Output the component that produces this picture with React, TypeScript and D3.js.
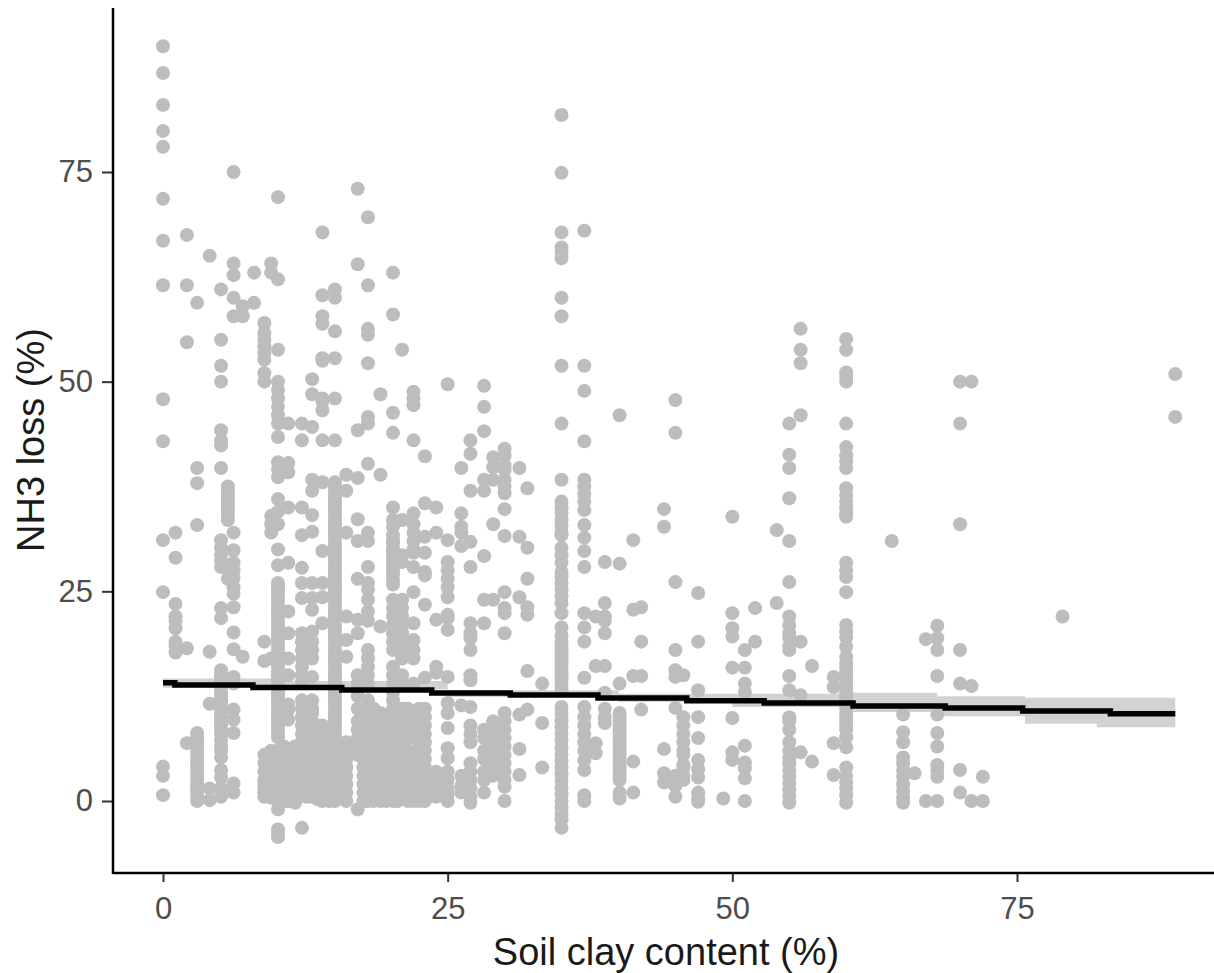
import { useLayoutEffect, useRef } from 'react'
import * as d3 from 'd3'

const WIDTH = 1214
const HEIGHT = 973
const POINT_COLOR = '#bdbdbd'
const RIBBON_COLOR = '#d2d2d2'

const xTicks = [0, 25, 50, 75]
const yTicks = [0, 25, 50, 75]

// fitted line, steps as they appear in the picture
const fitClay = [0, 1.05, 7.9, 15.7, 23.6, 30.5, 38.2, 46, 52.8, 60.6, 68.7, 75.5, 83.2, 88.9]
const fitLoss = [14.1, 13.83, 13.53, 13.23, 12.88, 12.64, 12.28, 11.96, 11.68, 11.33, 11.09, 10.73, 10.41, 10.41]

const ribbonClay = [0, 10, 25, 40, 50, 60, 68, 75.7, 82, 88.9]
const ribbonLow = [13.5, 13.3, 12.4, 11.8, 11.2, 10.6, 10.1, 9.2, 8.8, 8.8]
const ribbonHigh = [14.6, 14.3, 13.2, 12.8, 12.8, 12.9, 12.5, 12.3, 12.3, 12.3]

// NH3 loss readings per clay level
const loss0 = [90, 86.8, 83, 79.9, 78, 71.8, 66.8, 61.5, 47.9, 42.9, 31.1, 24.9, 4.1, 3, 0.7]
const loss1 = [32, 29, 23.5, 22, 21.5, 20.6, 19, 18.5, 17.7]
const loss2 = [67.5, 61.5, 54.7, 18.2, 6.9]
const loss3 = [59.4, 39.7, 37.9, 32.9, 8.1, 7.5, 7, 6.5, 6, 5.5, 5, 4.5, 4, 3.5, 3, 2.5, 2, 1.5, 1, 0.5, 0]
const loss4 = [65, 17.8, 11.6, 0.1, 1.5]
const loss5 = [61, 55, 51.9, 50, 44.2, 43, 42.4, 39.7, 31.1, 30.2, 29.3, 28.6, 27.9, 23, 21.8, 15.6, 15, 14.5, 14, 13.5, 13, 12.5, 12, 11.5, 11, 10.5, 10, 9.5, 9, 8.5, 8, 7.3, 6.6, 6, 5.2, 3.7, 2.8, 1.5, 0.5]
const loss5b = [37.5, 37, 36.5, 36, 35.5, 35, 34.5, 34, 33.5, 27.5, 26.5]
const loss6 = [75, 64.1, 62.7, 60, 57.8, 32, 29.9, 28.4, 27.5, 26.6, 25.5, 24.7, 23.1, 20.1, 18.1, 14.8, 14, 10.9, 9.7, 8.1, 2.1, 1]
const loss7 = [59, 57.8, 17.2]
const loss8 = [63, 59.4]
const loss9 = [57, 55.8, 55, 54.2, 53.4, 52.6, 51, 50, 19, 16.7, 5.5, 4.5, 3.5, 2.5, 2, 1.5, 1, 0.5]
const loss9b = [64.1, 63, 34, 33, 32, 17, 6, 5, 4, 3, 2, 1.2, 0.4]
const loss10 = [72, 62.2, 53.8, 50, 49, 48, 47, 46, 45, 43.4, 40.4, 39.6, 38.6, 36, 34.5, 33, 30, 28.1, 26, 25.5, 25, 24.5, 24, 23.5, 23, 22.5, 22, 21.5, 21, 20.5, 20, 19.5, 19, 18.5, 18, 17.5, 17, 16.5, 16, 15.5, 15, 14.5, 14, 13.5, 13, 12.5, 12, 11.5, 11, 10.5, 10, 9.5, 9, 8.5, 8, 7.6, 6, 5, 4, 3, 2, 1, 0, -1, -3.4, -3.9, -4.3]
const loss10b = [6.5, 5.5, 4.5, 3.5, 2.5, 1.5, 0.5, 0]
const loss11 = [45, 40.3, 39.2, 35, 28.4, 22.6, 20, 17, 15, 11.5, 10.9, 9.7, 5.5, 4.5, 3.5, 2.5, 1.5, 0.5, 0]
const loss11b = [6.5, 5.5, 4.5, 3.5, 2.5, 1.5, 0.5, -0.2]
const loss12 = [45, 43, 35, 31.7, 27.8, 26, 24.2, 20, 19, 18, 17, 16, 15, 14.3, 12, 11, 10, 9, 8, 7, 6, 5, 4, 3, 2, 1, -3.2]
const loss12b = [10, 9, 7.5, 6.5, 5.5, 4.5, 3.5, 2.5, 1.5, 0.5]
const loss13 = [50.3, 48.5, 44.6, 38.3, 37, 34.1, 32.1, 26, 24.2, 22.8, 20.2, 19, 18, 17, 14.8, 12, 11, 10.5, 9.5, 8.5, 7.5, 6.5, 5.5, 3.5, 2.5, 1.5, 0.5]
const loss13b = [9, 8, 7, 6, 5, 3, 2, 1, 0.2]
const loss14 = [67.8, 60.3, 57.8, 56.9, 52.8, 52.5, 48, 47.6, 46.6, 43, 38, 29.8, 26, 24.3, 21.2, 9, 8, 7, 6, 5, 4, 3, 2, 1, 0]
const loss14b = [7, 6, 5, 4, 3, 2, 1, 0]
const loss15 = [61, 60, 56, 52.8, 48, 43, 38, 37.5, 37, 36.5, 36, 35.5, 35, 34.5, 34, 33.5, 33, 32.5, 32, 31.5, 31, 30.5, 30, 29.5, 29, 28.5, 28, 27.5, 27, 26.5, 26, 25.5, 25, 24.5, 24, 23.5, 23, 22.5, 22, 21.5, 21, 20.5, 20, 19.5, 19, 18.5, 18, 17.5, 17, 16.5, 16, 15.5, 15, 14.5, 14, 13.5, 13, 12.5, 12, 11.5, 11, 10.5, 10, 9.5, 9, 8.5, 8, 7.5, 7, 6.5, 6, 5.5, 5, 4.5, 4, 3.5, 3, 2.5, 2, 1.5, 1, 0.5, 0]
const loss16 = [38.9, 37, 32, 22, 19.2, 17.2, 7, 6, 5, 4, 3, 2, 1, 0]
const loss17 = [73, 64, 44.2, 38.5, 33.6, 31, 26.5, 21.6, 20, 15, 14, 12.5, 11, 9.5, 8.5, 7.5, 6.5, 5.5, -1]
const loss17b = [9, 8, 7, 6, 5, 4, 3, 2, 1, 0]
const loss18 = [69.6, 61.5, 56.3, 55.6, 52.2, 45.8, 45, 40.2, 32, 31, 27.9, 26, 25.2, 24, 22.6, 21.5, 18, 17, 16, 15, 14, 12, 11, 10, 9, 8, 7, 6, 5, 4, 3, 2, 1, 0]
const loss18b = [11, 10, 9, 8, 7, 6, 5, 4, 3, 2, 1, 0]
const loss19 = [48.5, 38.9, 20.8, 10.5, 9.5, 8.5, 7.5, 6.5, 5.5, 4.5, 3.5, 2.5, 1.5, 0.5, 0]
const loss19b = [10, 9, 8, 7, 6, 5, 3, 2, 1, 0]
const loss20 = [63, 58, 46.3, 43.9, 35, 33.5, 32.7, 31.7, 31, 30.7, 30, 29.7, 29, 28.7, 28, 27.6, 27, 26.3, 25.8, 24, 23, 22, 21, 20, 19, 18, 16, 15, 14, 13, 12, 11, 10, 9, 8, 7, 6, 5, 4, 3, 2, 1, 0]
const loss20b = [10.5, 9, 8, 7, 6, 5, 4, 3, 2, 0]
const loss21 = [53.8, 33.5, 29.3, 28.5, 24, 23, 22, 21, 20, 19, 18, 17, 15, 14, 11, 10, 9, 8, 7, 6, 4.5, 3.5, 2.5, 1.5, 0.5]
const loss21b = [11, 10, 9, 8, 6, 5, 4, 3, 2, 1, 0]
const loss22 = [48.8, 48, 47.2, 43, 34.3, 33, 32, 31, 30, 29.6, 27.9, 24.9, 21.2, 19.2, 18, 17, 14, 10.5, 9.5, 8.5, 7.5, 5.5, 4.5, 3.5, 2.5, 1.5, 0.5, 0]
const loss22b = [11, 10, 9, 8, 7, 6, 5, 4, 3, 2, 1, 0]
const loss23 = [41.1, 35.5, 31.5, 29.6, 27.3, 26.9, 23.4, 14.7, 11, 10, 9, 8, 7, 6, 5, 4, 3, 2, 1, 0]
const loss24 = [35, 32, 21.6, 15.3, 16, 3.5, 3, 2.5, 2, 1.5, 0.5]
const loss25 = [49.7, 31.1, 28.5, 27.5, 26.5, 25.5, 24.3, 22.2, 21.8, 20.4, 14.8, 11.7, 10.5, 8.7, 6.3, 5.1, 3.5, 2.5, 1.5, 0.8, 0]
const loss26 = [39.7, 34.3, 32.7, 32, 30.4, 11.4, 3, 1.8, 1]
const loss27 = [43, 41.4, 37, 30.9, 27.9, 21.2, 20, 19.4, 18, 15, 14.4, 11.2, 9, 8, 7, 4.5, 3.5, 2.5, 1.5, 0.5, -0.2]
const loss28 = [49.5, 47, 44.1, 38.3, 37, 29.2, 24, 21.2, 8.5, 7.5, 6, 5, 3.5, 2.5, 1]
const loss29 = [39.8, 41, 38.3, 33, 24, 9.5, 8.5, 7.5, 6.5, 5.5, 4.5, 3.5, 3]
const loss30 = [42, 41.2, 40, 39.5, 38.3, 37.5, 36.7, 34.8, 31.6, 24.9, 23, 22.4, 20, 10.5, 9.5, 8.5, 7.5, 6.5, 5.5, 4.5, 3.5, 2.5, 1.7, 0]
const loss31 = [39.7, 31.5, 24.3, 10.3, 6.2, 3.1]
const loss32 = [37.3, 30.2, 26.5, 23.1, 22.2, 15.5, 10.9]
const loss33 = [14, 9.3, 4]
const loss35 = [81.8, 74.9, 67.8, 66, 65.5, 64.7, 60, 57.8, 51.9, 45, 38.3, 35.7, 35, 34.3, 33.5, 32.8, 32, 31.7, 30.2, 29.3, 28.4, 27.3, 26.7, 26, 25.2, 24.4, 23.6, 22.4, 20.7, 19.7, 19, 18.5, 18, 17.5, 17, 16.5, 16, 15.5, 15, 14.5, 14, 13.3, 11.2, 10.4, 9.6, 8.8, 8, 7.2, 6.4, 5.6, 4.8, 4, 3.2, 2.4, 1.6, 0.8, 0, -0.8, -1.6, -2.2, -3.2]
const loss37 = [68, 51.9, 48.9, 42.9, 38.3, 37.5, 36.6, 35.7, 34.7, 32.9, 31.4, 29.8, 27.9, 22.4, 20.7, 19, 14.7, 11.2, 10, 9, 8, 7, 6, 4.9, 3.7, 0.7, 0]
const loss38 = [16.1, 5.7, 22, 6.9]
const loss39 = [28.5, 23.6, 22, 21.5, 20, 16.1, 12.9, 11, 10, 9.3]
const loss40 = [46, 28.3, 14, 10.5, 10, 9.5, 9, 8.5, 8, 7.5, 7, 6.5, 6, 5.5, 5, 4.5, 4, 3.5, 3, 2.5, 1, 0.3]
const loss41 = [31.1, 22.8, 14.9, 4.7, 1]
const loss42 = [23.1, 19, 14.9, 10.9]
const loss44 = [34.8, 32.7, 6.2, 3.3, 2.2]
const loss45 = [47.8, 43.9, 26.1, 18, 15.6, 14.8, 11.1, 3, 1.8, 0.5]
const loss46 = [15, 10, 9, 8, 7, 6, 5.5, 4.3, 4, 3, 2.5]
const loss47 = [24.8, 19, 13.2, 10, 7.5, 4.9, 3.8, 2.8, 1, 0.3, -0.1]
const loss49 = [0.3]
const loss50 = [33.9, 22.4, 20.6, 19.6, 15.9, 9.9, 5.8, 4.9]
const loss51 = [18, 15.9, 14, 13, 6.6, 4.6, 3.9, 2.7, 0]
const loss52 = [23, 19]
const loss54 = [32.3, 23.6]
const loss55 = [45, 41.3, 39.7, 36.1, 31, 26.1, 22, 21, 20, 19.5, 18.5, 18, 14.9, 13.2, 10, 9.5, 8.5, 7, 6, 5.2, 4.5, 3.7, 2.9, 2.1, 1.3, 0.5, -0.2]
const loss56 = [56.3, 53.8, 52.2, 46, 19, 12.6, 5.8]
const loss57 = [16.1, 4.7]
const loss59 = [14.8, 13.6, 6.9, 3.1]
const loss60 = [55.1, 53.8, 51.1, 50.6, 50, 45, 42.2, 41.2, 40.5, 39.7, 37.3, 36.5, 35.7, 35, 34.3, 33.9, 28.4, 27.5, 26.7, 24.9, 21, 20.2, 19.5, 18.4, 17.2, 16.5, 16, 15.5, 15, 14.5, 14, 13.5, 13, 12.5, 12, 11.5, 11, 10.5, 10, 9.5, 9, 8.5, 7.6, 6.4, 4, 3, 2.2, 1.5, 0.7, -0.2]
const loss64 = [31]
const loss65 = [10.3, 8.2, 7, 5.2, 4.5, 3.7, 2.9, 2, 1.2, 0.4, -0.2]
const loss66 = [3.3]
const loss67 = [19.3, 0]
const loss68 = [20.9, 19.4, 18, 14.9, 10.3, 8.1, 6.5, 4.3, 3.7, 2.9, 0]
const loss70 = [50, 45, 33, 18, 14, 3.7, 1]
const loss71 = [50, 13.7, 0]
const loss72 = [2.9, 0]
const loss79 = [22]
const loss89 = [50.9, 45.8]

const columns: [number, number[]][] = [
  [0, loss0], [1.1, loss1], [2.1, loss2], [3, loss3], [4.1, loss4], [5.1, loss5], [5.7, loss5b],
  [6.2, loss6], [7, loss7], [8, loss8], [8.9, loss9], [9.5, loss9b], [10.1, loss10], [10.6, loss10b],
  [11, loss11], [11.6, loss11b], [12.2, loss12], [12.6, loss12b], [13.1, loss13], [13.6, loss13b],
  [14, loss14], [14.6, loss14b], [15.1, loss15], [16.1, loss16], [17.1, loss17], [17.6, loss17b],
  [18, loss18], [18.5, loss18b], [19.1, loss19], [19.6, loss19b], [20.2, loss20], [20.6, loss20b],
  [21, loss21], [21.5, loss21b], [22, loss22], [22.5, loss22b], [23, loss23], [24, loss24],
  [25, loss25], [26.2, loss26], [27, loss27], [28.2, loss28], [29, loss29], [30, loss30], [31.3, loss31],
  [32, loss32], [33.3, loss33], [35, loss35], [37, loss37], [38, loss38], [38.8, loss39], [40.1, loss40],
  [41.3, loss41], [42, loss42], [44, loss44], [45, loss45], [45.7, loss46], [47, loss47], [49.2, loss49],
  [50, loss50], [51.1, loss51], [52, loss52], [53.9, loss54], [55, loss55], [56, loss56], [57, loss57],
  [58.9, loss59], [60, loss60], [64, loss64], [65, loss65], [66, loss66], [67, loss67], [68, loss68],
  [70, loss70], [71, loss71], [72, loss72], [79, loss79], [88.9, loss89],
]

export default function App() {
  const ref = useRef<SVGSVGElement | null>(null)

  useLayoutEffect(() => {
    if (!ref.current) return
    const svg = d3.select(ref.current)
    svg.selectAll('*').remove()

    const x = d3.scaleLinear().domain([0, 75]).range([163, 1017])
    const y = d3.scaleLinear().domain([0, 75]).range([801, 172])
    const left = 113
    const bottom = 873

    const ribbon = ribbonClay.map((c, i) => ({ c, lo: ribbonLow[i], hi: ribbonHigh[i] }))
    svg.append('path')
      .attr('d', d3.area<any>()
        .x((d) => x(d.c))
        .y0((d) => y(d.lo))
        .y1((d) => y(d.hi))
        .curve(d3.curveStepAfter)(ribbon))
      .attr('fill', RIBBON_COLOR)

    const points = columns.flatMap(([clay, values]) => values.map((v) => ({ clay, v })))
    svg.append('g')
      .selectAll('circle')
      .data(points)
      .join('circle')
      .attr('cx', (d) => x(d.clay))
      .attr('cy', (d) => y(d.v))
      .attr('r', 7)
      .attr('fill', POINT_COLOR)

    const fit = fitClay.map((c, i) => ({ c, v: fitLoss[i] }))
    svg.append('path')
      .attr('d', d3.line<any>()
        .x((d) => x(d.c))
        .y((d) => y(d.v))
        .curve(d3.curveStepAfter)(fit))
      .attr('fill', 'none')
      .attr('stroke', '#000')
      .attr('stroke-width', 5.5)

    const gx = svg.append('g').attr('transform', `translate(0,${bottom})`)
      .call(d3.axisBottom(x).tickValues(xTicks).tickSize(9).tickPadding(15))
    const gy = svg.append('g').attr('transform', `translate(${left},0)`)
      .call(d3.axisLeft(y).tickValues(yTicks).tickSize(11).tickPadding(9))

    for (const g of [gx, gy]) {
      g.select('.domain').remove()
      g.selectAll('.tick line').attr('stroke', '#333').attr('stroke-width', 2)
      g.selectAll('.tick text')
        .attr('fill', '#4d4d4d')
        .attr('font-size', 31)
        .attr('font-family', '"Liberation Sans", Arial, sans-serif')
    }

    svg.append('line').attr('x1', left).attr('x2', left).attr('y1', 8).attr('y2', bottom + 1)
      .attr('stroke', '#000').attr('stroke-width', 2.5)
    svg.append('line').attr('x1', left).attr('x2', WIDTH).attr('y1', bottom).attr('y2', bottom)
      .attr('stroke', '#000').attr('stroke-width', 2.5)

    svg.append('text')
      .attr('x', 666)
      .attr('y', 965)
      .attr('text-anchor', 'middle')
      .attr('font-size', 38)
      .attr('font-family', '"Liberation Sans", Arial, sans-serif')
      .attr('fill', '#1a1a1a')
      .text('Soil clay content (%)')

    svg.append('text')
      .attr('transform', 'translate(44,440) rotate(-90)')
      .attr('text-anchor', 'middle')
      .attr('font-size', 38)
      .attr('font-family', '"Liberation Sans", Arial, sans-serif')
      .attr('fill', '#1a1a1a')
      .text('NH3 loss (%)')
  }, [])

  return (
    <svg
      ref={ref}
      width={WIDTH}
      height={HEIGHT}
      style={{ position: 'absolute', left: 0, top: 0, display: 'block', background: '#fff' }}
    />
  )
}
